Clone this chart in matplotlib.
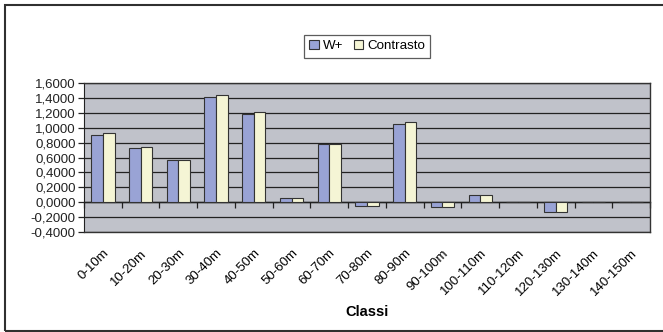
import matplotlib
matplotlib.use("Agg")
import matplotlib.pyplot as plt
from matplotlib.patches import Rectangle
from matplotlib.ticker import FuncFormatter, FixedLocator
import numpy as np

plt.rcParams['font.family'] = ['Liberation Sans', 'DejaVu Sans']

categories = ['0-10m', '10-20m', '20-30m', '30-40m', '40-50m', '50-60m', '60-70m',
              '70-80m', '80-90m', '90-100m', '100-110m', '110-120m', '120-130m',
              '130-140m', '140-150m']
w_plus = [0.897, 0.726, 0.570, 1.408, 1.184, 0.058, 0.785,
          -0.045, 1.054, -0.058, 0.099, 0.0, -0.135, 0.0, 0.0]
contrasto = [0.928, 0.740, 0.570, 1.440, 1.210, 0.058, 0.785,
             -0.045, 1.070, -0.058, 0.099, 0.0, -0.135, 0.0, 0.0]
y_ticks = [-0.4, -0.2, 0.0, 0.2, 0.4, 0.6, 0.8, 1.0, 1.2, 1.4, 1.6]

W, H = 663, 332
fig = plt.figure(figsize=(W / 100, H / 100), dpi=100)

# chart frame
fig.patches.append(Rectangle((4.5 / W, 1.5 / H), 1.2, (H - 6.5) / H,
                             transform=fig.transFigure, fill=False,
                             edgecolor='#303030', linewidth=1.5))

ax = fig.add_axes([84 / W, (H - 232) / H, (650 - 84) / W, (232 - 83) / H])
ax.set_facecolor('#C0C2CA')

x = np.arange(len(categories))
bw = 0.31
ax.bar(x - bw / 2, w_plus, bw, color='#99A3D5', edgecolor='#333333',
       linewidth=0.8, label='W+', zorder=3)
ax.bar(x + bw / 2, contrasto, bw, color='#F5F5D5', edgecolor='#333333',
       linewidth=0.8, label='Contrasto', zorder=3)

ax.set_xlim(-0.5, len(categories) - 0.5)
ax.set_ylim(y_ticks[0], y_ticks[-1])
ax.set_yticks(y_ticks)
ax.yaxis.set_major_formatter(FuncFormatter(lambda v, p: f"{v:.4f}".replace('.', ',')))
ax.grid(axis='y', color='#222222', linewidth=0.9, zorder=1)
ax.tick_params(axis='y', direction='out', length=4, width=0.9,
               labelsize=9.5, pad=2, colors='#222222')

ax.set_xticks(x)
ax.set_xticklabels(categories, rotation=45, ha='right', rotation_mode='anchor',
                   fontsize=9.5)
ax.tick_params(axis='x', length=0, pad=11)

for s in ['top', 'right', 'bottom']:
    ax.spines[s].set_color('#333333')
    ax.spines[s].set_linewidth(1.0)
ax.spines['left'].set_color('#222222')

# category axis drawn along the zero line
zero_frac = (0 - y_ticks[0]) / (y_ticks[-1] - y_ticks[0])
sec = ax.secondary_xaxis(zero_frac)
sec.xaxis.set_major_locator(FixedLocator(np.arange(len(categories) + 1) - 0.5))
sec.tick_params(axis='x', direction='out', length=4, width=0.9,
                labelbottom=False, colors='#222222')
sec.spines['bottom'].set_color('#111111')
sec.spines['bottom'].set_linewidth(1.0)

ax.set_xlabel('Classi', fontsize=10.5, fontweight='bold', labelpad=5)

leg = fig.legend(loc='center', bbox_to_anchor=(367 / W, 1 - 46 / H), ncol=2,
                 fontsize=9.6, frameon=True, fancybox=False, edgecolor='#333333',
                 handlelength=0.7, handleheight=0.7, handletextpad=0.3,
                 columnspacing=0.8, borderpad=0.4)
leg.get_frame().set_linewidth(0.9)

fig.savefig('out.png', dpi=100)
